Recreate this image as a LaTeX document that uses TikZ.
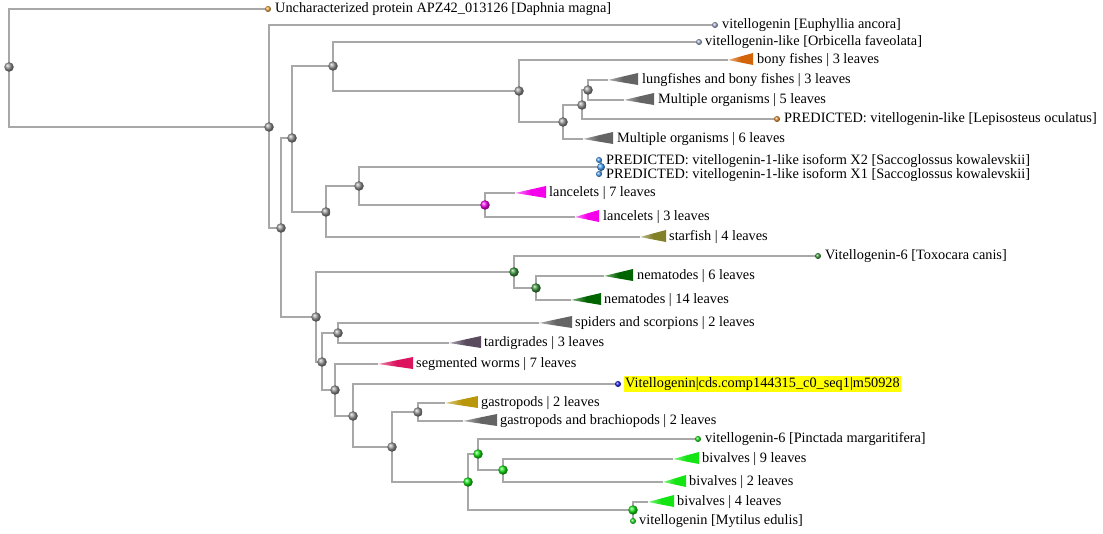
\documentclass[tikz,border=0pt]{standalone}
\usepackage{fontspec}
\setmainfont{Liberation Serif}
\usepackage{tikz}
\usetikzlibrary{backgrounds}
\definecolor{branch}{RGB}{168,168,168}
\definecolor{nodegray}{RGB}{150,150,150}
\definecolor{cladegray}{RGB}{100,100,100}
\definecolor{bony}{RGB}{210,100,10}
\definecolor{lancelet}{RGB}{245,0,235}
\definecolor{starfish}{RGB}{130,128,40}
\definecolor{nematode}{RGB}{0,100,0}
\definecolor{nemnode}{RGB}{60,150,60}
\definecolor{tardi}{RGB}{90,75,95}
\definecolor{worm}{RGB}{220,20,95}
\definecolor{gastro}{RGB}{185,150,10}
\definecolor{bivalve}{RGB}{20,228,20}
\definecolor{daphnia}{RGB}{235,165,60}
\definecolor{coral}{RGB}{160,175,205}
\definecolor{gar}{RGB}{235,140,40}
\definecolor{acorn}{RGB}{70,160,250}
\definecolor{query}{RGB}{30,30,235}
\definecolor{hilite}{RGB}{255,255,0}

\begin{document}
\begin{tikzpicture}[x=1pt, y=-1pt,
  every node/.style={font=\fontsize{14.3}{16}\selectfont},
  bnode/.style={circle, inner sep=0pt, minimum size=9.5pt, ball color=nodegray},
  leafdot/.style={circle, inner sep=0pt, minimum size=6pt},
  lbl/.style={anchor=west, inner sep=0pt, text height=10pt, text depth=3.5pt},
  br/.style={draw=branch, line width=1.2pt},
  clade/.style={left color=#1!50, right color=#1, middle color=#1},
]
\useasboundingbox (0,0) rectangle (1103,534);

\node[bnode] (r0) at (9,67) {};
\node[bnode] (n1) at (269,127) {};
\node[bnode] (n2) at (281,228) {};
\node[bnode] (n3) at (292,138) {};
\node[bnode] (n4) at (333,66) {};
\node[bnode] (n5) at (326,212) {};
\node[bnode] (n6) at (519,91) {};
\node[bnode] (n7) at (563,122) {};
\node[bnode] (n8) at (582,105) {};
\node[bnode] (n9) at (588,90) {};
\node[bnode] (n10) at (359,186) {};
\node[bnode, minimum size=8pt, ball color=acorn] (nsac) at (601,167) {};
\node[bnode, ball color=lancelet] (nlan) at (485,205) {};
\node[bnode] (n11) at (316,317) {};
\node[bnode, ball color=nemnode] (nem1) at (514,272) {};
\node[bnode, ball color=nemnode] (nem2) at (536,288) {};
\node[bnode] (n12) at (322,362) {};
\node[bnode] (n13) at (338,333) {};
\node[bnode] (n14) at (335,390) {};
\node[bnode] (n15) at (353,416) {};
\node[bnode] (n16) at (392,447) {};
\node[bnode] (ngas) at (418,412) {};
\node[bnode, ball color=bivalve] (biv1) at (468,482) {};
\node[bnode, ball color=bivalve] (biv2) at (478,454) {};
\node[bnode, ball color=bivalve] (biv3) at (503,470) {};
\node[bnode, ball color=bivalve] (biv4) at (633,510) {};

\node[leafdot, ball color=daphnia] (d1) at (268,9) {};
\node[lbl] (t1) at (275,9) {Uncharacterized protein APZ42\_013126 [Daphnia magna]};
\node[leafdot, ball color=coral] (d2) at (715,25) {};
\node[lbl] (t2) at (722,25) {vitellogenin [Euphyllia ancora]};
\node[leafdot, ball color=coral] (d3) at (699,42) {};
\node[lbl] (t3) at (705,42) {vitellogenin-like [Orbicella faveolata]};
\node[leafdot, ball color=gar] (d4) at (777,119) {};
\node[lbl] (t4) at (784,119) {PREDICTED: vitellogenin-like [Lepisosteus oculatus]};
\node[leafdot, ball color=acorn] (d5) at (599,160) {};
\node[lbl] (t5) at (606,161) {PREDICTED: vitellogenin-1-like isoform X2 [Saccoglossus kowalevskii]};
\node[leafdot, ball color=acorn] (d6) at (599,174) {};
\node[lbl] (t6) at (606,175) {PREDICTED: vitellogenin-1-like isoform X1 [Saccoglossus kowalevskii]};
\node[leafdot, ball color=nemnode] (d7) at (818,256) {};
\node[lbl] (t7) at (825,256) {Vitellogenin-6 [Toxocara canis]};
\node[leafdot, ball color=query] (d8) at (618,384) {};
\node[lbl, fill=hilite, inner sep=1pt] (t8) at (624,384) {Vitellogenin|cds.comp144315\_c0\_seq1|m50928};
\node[leafdot, ball color=bivalve] (d9) at (698,439) {};
\node[lbl] (t9) at (705,439) {vitellogenin-6 [Pinctada margaritifera]};
\node[leafdot, ball color=bivalve] (d10) at (633,521) {};
\node[lbl] (t10) at (639,521) {vitellogenin [Mytilus edulis]};

\coordinate (c1) at (728,60);
\path[clade=bony] (c1) -- ++(25,-7) -- ++(0,12) -- cycle;
\node[lbl] (k1) at (757,60) {bony fishes | 3 leaves};
\coordinate (c2) at (608,80);
\path[clade=cladegray] (c2) -- ++(30,-7) -- ++(0,12) -- cycle;
\node[lbl] (k2) at (642,80) {lungfishes and bony fishes | 3 leaves};
\coordinate (c3) at (624,100);
\path[clade=cladegray] (c3) -- ++(30,-7) -- ++(0,12) -- cycle;
\node[lbl] (k3) at (658,100) {Multiple organisms | 5 leaves};
\coordinate (c4) at (583,139);
\path[clade=cladegray] (c4) -- ++(30,-7) -- ++(0,12) -- cycle;
\node[lbl] (k4) at (617,139) {Multiple organisms | 6 leaves};
\coordinate (c5) at (515,193);
\path[clade=lancelet] (c5) -- ++(31,-7) -- ++(0,12) -- cycle;
\node[lbl] (k5) at (549,193) {lancelets | 7 leaves};
\coordinate (c6) at (575,217);
\path[clade=lancelet] (c6) -- ++(24,-7) -- ++(0,12) -- cycle;
\node[lbl] (k6) at (603,217) {lancelets | 3 leaves};
\coordinate (c7) at (640,237);
\path[clade=starfish] (c7) -- ++(26,-7) -- ++(0,12) -- cycle;
\node[lbl] (k7) at (669,237) {starfish | 4 leaves};
\coordinate (c8) at (604,276);
\path[clade=nematode] (c8) -- ++(29,-7) -- ++(0,12) -- cycle;
\node[lbl] (k8) at (637,276) {nematodes | 6 leaves};
\coordinate (c9) at (571,300);
\path[clade=nematode] (c9) -- ++(30,-7) -- ++(0,12) -- cycle;
\node[lbl] (k9) at (604,300) {nematodes | 14 leaves};
\coordinate (c10) at (539,323);
\path[clade=cladegray] (c10) -- ++(33,-7) -- ++(0,12) -- cycle;
\node[lbl] (k10) at (575,323) {spiders and scorpions | 2 leaves};
\coordinate (c11) at (449,343);
\path[clade=tardi] (c11) -- ++(32,-7) -- ++(0,12) -- cycle;
\node[lbl] (k11) at (484,343) {tardigrades | 3 leaves};
\coordinate (c12) at (378,364);
\path[clade=worm] (c12) -- ++(35,-7) -- ++(0,12) -- cycle;
\node[lbl] (k12) at (416,364) {segmented worms | 7 leaves};
\coordinate (c13) at (445,403);
\path[clade=gastro] (c13) -- ++(33,-7) -- ++(0,12) -- cycle;
\node[lbl] (k13) at (481,403) {gastropods | 2 leaves};
\coordinate (c14) at (463,421);
\path[clade=cladegray] (c14) -- ++(34,-7) -- ++(0,12) -- cycle;
\node[lbl] (k14) at (500,421) {gastropods and brachiopods | 2 leaves};
\coordinate (c15) at (673,459);
\path[clade=bivalve] (c15) -- ++(26,-7) -- ++(0,12) -- cycle;
\node[lbl] (k15) at (702,459) {bivalves | 9 leaves};
\coordinate (c16) at (663,482);
\path[clade=bivalve] (c16) -- ++(23,-7) -- ++(0,12) -- cycle;
\node[lbl] (k16) at (689,482) {bivalves | 2 leaves};
\coordinate (c17) at (648,502);
\path[clade=bivalve] (c17) -- ++(26,-7) -- ++(0,12) -- cycle;
\node[lbl] (k17) at (677,502) {bivalves | 4 leaves};

\begin{scope}[on background layer]
\draw[br] (r0.center) |- (d1.center);
\draw[br] (r0.center) |- (n1.center);
\draw[br] (n1.center) |- (d2.center);
\draw[br] (n1.center) |- (n2.center);
\draw[br] (n2.center) |- (n3.center);
\draw[br] (n2.center) |- (n11.center);
\draw[br] (n3.center) |- (n4.center);
\draw[br] (n3.center) |- (n5.center);
\draw[br] (n4.center) |- (d3.center);
\draw[br] (n4.center) |- (n6.center);
\draw[br] (n6.center) |- (c1);
\draw[br] (n6.center) |- (n7.center);
\draw[br] (n7.center) |- (n8.center);
\draw[br] (n7.center) |- (c4);
\draw[br] (n8.center) |- (n9.center);
\draw[br] (n8.center) |- (d4.center);
\draw[br] (n9.center) |- (c2);
\draw[br] (n9.center) |- (c3);
\draw[br] (n5.center) |- (n10.center);
\draw[br] (n5.center) |- (c7);
\draw[br] (n10.center) |- (nsac.center);
\draw[br] (n10.center) |- (nlan.center);
\draw[br] (nsac.center) |- (d5.center);
\draw[br] (nsac.center) |- (d6.center);
\draw[br] (nlan.center) |- (c5);
\draw[br] (nlan.center) |- (c6);
\draw[br] (n11.center) |- (nem1.center);
\draw[br] (n11.center) |- (n12.center);
\draw[br] (nem1.center) |- (d7.center);
\draw[br] (nem1.center) |- (nem2.center);
\draw[br] (nem2.center) |- (c8);
\draw[br] (nem2.center) |- (c9);
\draw[br] (n12.center) |- (n13.center);
\draw[br] (n12.center) |- (n14.center);
\draw[br] (n13.center) |- (c10);
\draw[br] (n13.center) |- (c11);
\draw[br] (n14.center) |- (c12);
\draw[br] (n14.center) |- (n15.center);
\draw[br] (n15.center) |- (d8.center);
\draw[br] (n15.center) |- (n16.center);
\draw[br] (n16.center) |- (ngas.center);
\draw[br] (n16.center) |- (biv1.center);
\draw[br] (ngas.center) |- (c13);
\draw[br] (ngas.center) |- (c14);
\draw[br] (biv1.center) |- (biv2.center);
\draw[br] (biv1.center) |- (biv4.center);
\draw[br] (biv2.center) |- (d9.center);
\draw[br] (biv2.center) |- (biv3.center);
\draw[br] (biv3.center) |- (c15);
\draw[br] (biv3.center) |- (c16);
\draw[br] (biv4.center) |- (c17);
\draw[br] (biv4.center) |- (d10.center);
\end{scope}
\end{tikzpicture}
\end{document}
